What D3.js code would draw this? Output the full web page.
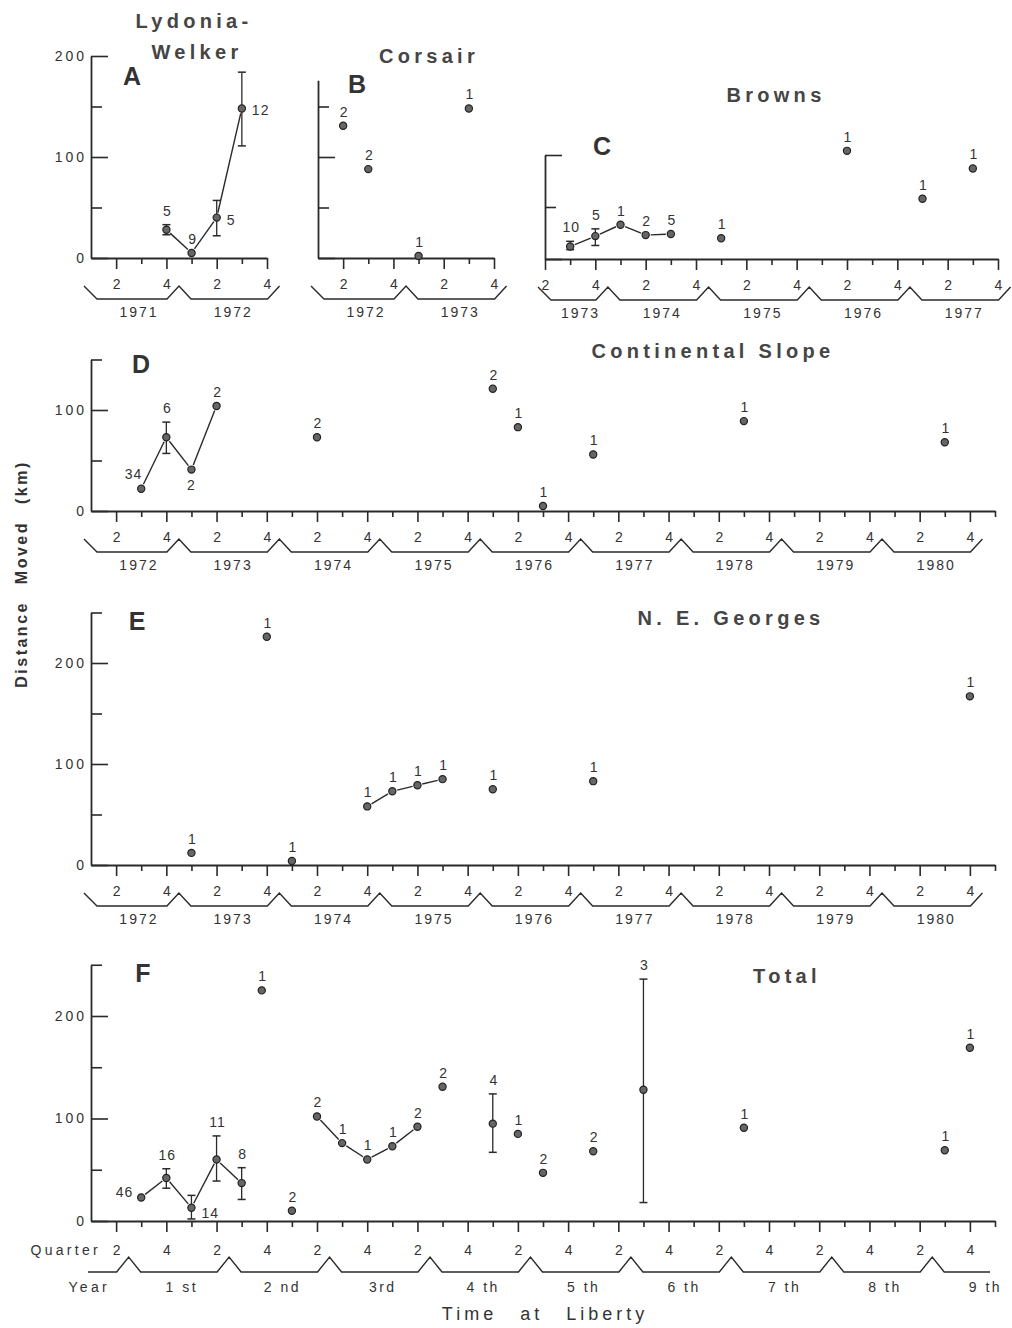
<!DOCTYPE html>
<html>
<head>
<meta charset="utf-8">
<script src="https://cdn.jsdelivr.net/npm/d3@7"></script>
<style>
  body { margin: 0; background: #fff; }
  svg { display: block; font-family: "Liberation Sans", Arial, sans-serif; }
</style>
</head>
<body>
<div id="chart"></div>
<script>
const w = 1012;
const h = 1328;

//Quarter index counts from Q1 of the panel's first year (0 = Q1, 1 = Q2 ...)
//Values are distance moved in km, counts are the number of returns.

//A - Lydonia-Welker
const aYears = ["1971", "1972"];
const aQuarter = [3, 4, 5, 6];
const aDistance = [28, 5, 40, 148];
const aCount = [5, 9, 5, 12];
const aLow = [23, null, 22, 111];
const aHigh = [33, null, 57, 184];
const aGroup = [1, 1, 1, 1];

//B - Corsair
const bYears = ["1972", "1973"];
const bQuarter = [1, 2, 4, 6];
const bDistance = [131, 88, 2, 148];
const bCount = [2, 2, 1, 1];

//C - Browns
const cYears = ["1973", "1974", "1975", "1976", "1977"];
const cQuarter = [2, 3, 4, 5, 6, 8, 13, 16, 18];
const cDistance = [12, 22, 33, 23, 24, 20, 104, 58, 87];
const cCount = [10, 5, 1, 2, 5, 1, 1, 1, 1];
const cLow = [9, 13, null, null, null, null, null, null, null];
const cHigh = [17, 29, null, null, null, null, null, null, null];
const cGroup = [1, 1, 1, 1, 1, 0, 0, 0, 0];

//D - Continental Slope
const dYears = ["1972", "1973", "1974", "1975", "1976", "1977", "1978", "1979", "1980"];
const dQuarter = [2, 3, 4, 5, 9, 16, 17, 18, 20, 26, 34];
const dDistance = [22, 73, 41, 104, 73, 121, 83, 5, 56, 89, 68];
const dCount = [34, 6, 2, 2, 2, 2, 1, 1, 1, 1, 1];
const dLow = [null, 57, null, null, null, null, null, null, null, null, null];
const dHigh = [null, 88, null, null, null, null, null, null, null, null, null];
const dGroup = [1, 1, 1, 1, 0, 0, 0, 0, 0, 0, 0];

//E - N. E. Georges
const eYears = ["1972", "1973", "1974", "1975", "1976", "1977", "1978", "1979", "1980"];
const eQuarter = [4, 7, 8, 11, 12, 13, 14, 16, 20, 35];
const eDistance = [12, 226, 4, 58, 73, 79, 85, 75, 83, 167];
const eCount = [1, 1, 1, 1, 1, 1, 1, 1, 1, 1];
const eGroup = [0, 0, 0, 1, 1, 1, 1, 0, 0, 0];

//F - Total, by time at liberty
const fYears = ["1 st", "2 nd", "3rd", "4 th", "5 th", "6 th", "7 th", "8 th", "9 th"];
const fQuarter = [2, 3, 4, 5, 6, 6.8, 8, 9, 10, 11, 12, 13, 14, 16, 17, 18, 20, 22, 26, 34, 35];
const fDistance = [23, 42, 13, 60, 37, 225, 10, 102, 76, 60, 73, 92, 131, 95, 85, 47, 68, 128, 91, 69, 169];
const fCount = [46, 16, 14, 11, 8, 1, 2, 2, 1, 1, 1, 2, 2, 4, 1, 2, 2, 3, 1, 1, 1];
const fLow = [null, 32, 2, 39, 21, null, null, null, null, null, null, null, null, 67, null, null, null, 18, null, null, null];
const fHigh = [null, 51, 25, 83, 52, null, null, null, null, null, null, null, null, 124, null, null, null, 236, null, null, null];
const fGroup = [1, 1, 1, 1, 1, 0, 0, 2, 2, 2, 2, 2, 0, 0, 0, 0, 0, 0, 0, 0, 0];

const ink = "#2a2a2a";
const textInk = "#333";
const titleInk = "#454545";

const panels = [
  {
    years: aYears, quarter: aQuarter, distance: aDistance, count: aCount,
    low: aLow, high: aHigh, group: aGroup,
    side: ["above", "above", "right", "right"],
    q0: 0, q1: 7, x0: 91, x1: 267, y0: 258, top: 200, k: 1.01, yLabels: [0, 100, 200],
    letter: { text: "A", x: 132, y: 85 },
    title: [{ text: "Lydonia-", x: 194, y: 28 }, { text: "Welker", x: 197, y: 59 }]
  },
  {
    years: bYears, quarter: bQuarter, distance: bDistance, count: bCount,
    q0: 0, q1: 7, x0: 318, x1: 494, y0: 258, top: 176, k: 1.01, yLabels: [],
    letter: { text: "B", x: 357, y: 93 },
    title: [{ text: "Corsair", x: 429, y: 63 }]
  },
  {
    years: cYears, quarter: cQuarter, distance: cDistance, count: cCount,
    low: cLow, high: cHigh, group: cGroup,
    q0: 1, q1: 19, x0: 545, x1: 998, y0: 259, top: 100, k: 1.04, yLabels: [],
    letter: { text: "C", x: 602, y: 155 },
    title: [{ text: "Browns", x: 776, y: 102 }]
  },
  {
    years: dYears, quarter: dQuarter, distance: dDistance, count: dCount,
    low: dLow, high: dHigh, group: dGroup,
    side: ["upleft", "above", "below", "above", "above", "above", "above", "above", "above", "above", "above"],
    q0: 0, q1: 36, x0: 91, x1: 995, y0: 511, top: 150, k: 1.01, yLabels: [0, 100],
    letter: { text: "D", x: 141, y: 373 },
    title: [{ text: "Continental Slope", x: 713, y: 358 }]
  },
  {
    years: eYears, quarter: eQuarter, distance: eDistance, count: eCount, group: eGroup,
    q0: 0, q1: 36, x0: 91, x1: 995, y0: 865, top: 250, k: 1.01, yLabels: [0, 100, 200],
    letter: { text: "E", x: 137, y: 630 },
    title: [{ text: "N. E. Georges", x: 731, y: 625 }]
  },
  {
    years: fYears, quarter: fQuarter, distance: fDistance, count: fCount,
    low: fLow, high: fHigh, group: fGroup, liberty: true,
    side: ["left", "above", "lowright"],
    q0: 0, q1: 36, x0: 91, x1: 995, y0: 1221, top: 250, k: 1.025, yLabels: [0, 100, 200],
    letter: { text: "F", x: 143, y: 982 },
    title: [{ text: "Total", x: 787, y: 983 }]
  }
];

const svg = d3.select("#chart").append("svg").attr("width", w).attr("height", h);

const drawPanel = (p) => {
  const g = svg.append("g");

  const x = d3.scaleLinear().domain([p.q0, p.q1]).range([p.x0, p.x1]);
  const y = d3.scaleLinear().domain([0, p.top]).range([p.y0, p.y0 - p.top * p.k]);

  //Y axis, ticks pointing into the plot
  const yAxis = d3
    .axisLeft(y)
    .tickValues(d3.range(0, p.top + 1, 50))
    .tickSize(-17)
    .tickSizeOuter(0)
    .tickPadding(4)
    .tickFormat((v) => (p.yLabels.includes(v) ? v : ""));

  const ya = g.append("g").attr("transform", `translate(${p.x0},0)`).call(yAxis);
  ya.selectAll(".tick line").attr("x2", (v) => (v % 100 === 0 ? 17 : 11));

  //X axis, quarters
  const ticks = d3.range(p.q0, p.q1 + 1).filter((q) => q > p.q0 || q % 2 === 1);
  const xAxis = d3
    .axisBottom(x)
    .tickValues(ticks)
    .tickSize(11)
    .tickSizeOuter(0)
    .tickPadding(p.liberty ? 13 : 10)
    .tickFormat((q) => (q % 4 === 1 ? "2" : q % 4 === 3 ? "4" : ""));

  const xa = g.append("g").attr("transform", `translate(0,${p.y0})`).call(xAxis);
  xa.selectAll(".tick line").attr("y2", (q) => (q % 2 === 1 ? 11 : 6));

  [ya, xa].forEach((a) => {
    a.attr("font-family", null).attr("font-size", null);
    a.select(".domain").attr("stroke", ink).attr("stroke-width", 1.8);
    a.selectAll(".tick line").attr("stroke", ink).attr("stroke-width", 1.6);
    a.selectAll(".tick text").attr("fill", textInk).style("font-size", "14px");
  });
  ya.selectAll(".tick text").style("letter-spacing", "3px");

  //Year brackets
  let path;
  if (!p.liberty) {
    const yP = p.y0 + 28;
    const yH = p.y0 + 41;
    path = [[x(p.q0) - 7, yP], [x(p.q0) + 6, yH]];
    for (let k = 1; k < p.years.length; k++) {
      const b = x(4 * k - 0.5);
      path.push([b - 12, yH], [b, yP], [b + 12, yH]);
    }
    const end = x(4 * p.years.length - 0.5);
    path.push([end - 12, yH], [end, yP]);

    g.selectAll(".year")
      .data(p.years)
      .enter()
      .append("text")
      .attr("x", (d, k) => (Math.max(x(4 * k - 0.5), x(p.q0)) + x(4 * k + 3.5)) / 2 + 4)
      .attr("y", p.y0 + 54)
      .attr("dy", "0.35em")
      .attr("text-anchor", "middle")
      .attr("fill", textInk)
      .style("font-size", "14px")
      .style("letter-spacing", "2px")
      .text((d) => d);
  } else {
    const yP = p.y0 + 36;
    const yH = p.y0 + 51;
    path = [[x(p.q0) - 3, yH]];
    for (let k = 0; k < p.years.length; k++) {
      const b = x(4 * k + 1.5);
      path.push([b - 12, yH], [b, yP], [b + 12, yH]);
    }
    path.push([x(p.q1) - 5, yH]);

    g.selectAll(".year")
      .data(p.years)
      .enter()
      .append("text")
      .attr("x", (d, k) => x(4 * k + 3.5) + 3)
      .attr("y", p.y0 + 66)
      .attr("dy", "0.35em")
      .attr("text-anchor", "middle")
      .attr("fill", textInk)
      .style("font-size", "14px")
      .style("letter-spacing", "2.5px")
      .text((d) => d);

    g.append("text")
      .attr("x", 101)
      .attr("y", p.y0 + 29)
      .attr("dy", "0.35em")
      .attr("text-anchor", "end")
      .attr("fill", textInk)
      .style("font-size", "14px")
      .style("letter-spacing", "3.3px")
      .text("Quarter");

    g.append("text")
      .attr("x", 110)
      .attr("y", p.y0 + 66)
      .attr("dy", "0.35em")
      .attr("text-anchor", "end")
      .attr("fill", textInk)
      .style("font-size", "14px")
      .style("letter-spacing", "3.3px")
      .text("Year");
  }

  g.append("path")
    .attr("d", d3.line()(path))
    .attr("fill", "none")
    .attr("stroke", ink)
    .attr("stroke-width", 1.4);

  //Points
  const pts = p.quarter.map((q, i) => ({
    x: x(q),
    y: y(p.distance[i]),
    n: p.count[i],
    lo: p.low && p.low[i] != null ? y(p.low[i]) : null,
    hi: p.high && p.high[i] != null ? y(p.high[i]) : null,
    grp: p.group ? p.group[i] : 0,
    side: (p.side && p.side[i]) || "above"
  }));

  //Connecting lines, with a small gap at each point
  const groups = d3.group(pts.filter((d) => d.grp), (d) => d.grp);
  groups.forEach((list) => {
    for (let i = 1; i < list.length; i++) {
      const a = list[i - 1];
      const b = list[i];
      const dx = b.x - a.x;
      const dy = b.y - a.y;
      const len = Math.hypot(dx, dy);
      const gap = 5;
      g.append("line")
        .attr("x1", a.x + (dx / len) * gap)
        .attr("y1", a.y + (dy / len) * gap)
        .attr("x2", b.x - (dx / len) * gap)
        .attr("y2", b.y - (dy / len) * gap)
        .attr("stroke", ink)
        .attr("stroke-width", 1.4);
    }
  });

  //Error bars
  const bars = pts.filter((d) => d.lo != null);
  bars.forEach((d) => {
    g.append("line")
      .attr("x1", d.x).attr("x2", d.x)
      .attr("y1", d.hi).attr("y2", d.lo)
      .attr("stroke", ink).attr("stroke-width", 1.3);
    [d.hi, d.lo].forEach((v) => {
      g.append("line")
        .attr("x1", d.x - 4).attr("x2", d.x + 4)
        .attr("y1", v).attr("y2", v)
        .attr("stroke", ink).attr("stroke-width", 1.5);
    });
  });

  g.selectAll("circle")
    .data(pts)
    .enter()
    .append("circle")
    .attr("cx", (d) => d.x)
    .attr("cy", (d) => d.y)
    .attr("r", 3.6)
    .attr("fill", "#666")
    .attr("stroke", "#222")
    .attr("stroke-width", 1.2);

  //Number of returns
  const labelPos = (d) => {
    const top = d.hi != null ? d.hi : d.y;
    switch (d.side) {
      case "right": return [d.x + 10, d.y + 2, "start"];
      case "lowright": return [d.x + 10, d.y + 5, "start"];
      case "left": return [d.x - 8, d.y - 5, "end"];
      case "below": return [d.x, d.y + 16, "middle"];
      case "upleft": return [d.x + 1, d.y - 15, "end"];
      default: return [d.x + 1, top - 14, "middle"];
    }
  };

  g.selectAll(".count")
    .data(pts)
    .enter()
    .append("text")
    .attr("x", (d) => labelPos(d)[0])
    .attr("y", (d) => labelPos(d)[1])
    .attr("dy", "0.35em")
    .attr("text-anchor", (d) => labelPos(d)[2])
    .attr("fill", textInk)
    .style("font-size", "14px")
    .style("letter-spacing", "1px")
    .text((d) => d.n);

  //Panel letter and title
  g.append("text")
    .attr("x", p.letter.x)
    .attr("y", p.letter.y)
    .attr("text-anchor", "middle")
    .attr("fill", "#333")
    .style("font-size", "25px")
    .style("font-weight", "bold")
    .text(p.letter.text);

  p.title.forEach((t) => {
    g.append("text")
      .attr("x", t.x)
      .attr("y", t.y)
      .attr("text-anchor", "middle")
      .attr("fill", titleInk)
      .style("font-size", "20px")
      .style("font-weight", "bold")
      .style("letter-spacing", "4.3px")
      .text(t.text);
  });
};

panels.forEach(drawPanel);

//Shared axis titles
svg
  .append("text")
  .attr("transform", "translate(21,574) rotate(-90)")
  .attr("dy", "0.35em")
  .attr("text-anchor", "middle")
  .attr("fill", "#333")
  .style("font-size", "16px")
  .style("font-weight", "bold")
  .style("letter-spacing", "2.5px")
  .style("word-spacing", "10px")
  .text("Distance Moved (km)");

svg
  .append("text")
  .attr("x", 545)
  .attr("y", 1320)
  .attr("text-anchor", "middle")
  .attr("fill", "#333")
  .style("font-size", "18px")
  .style("letter-spacing", "4px")
  .style("word-spacing", "14px")
  .text("Time at Liberty");
</script>
</body>
</html>
